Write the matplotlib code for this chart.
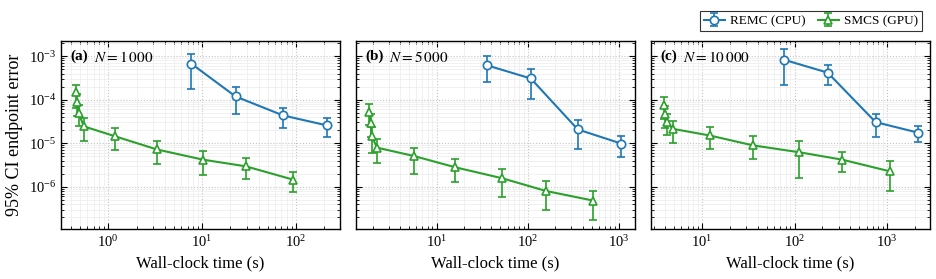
import numpy as np
import matplotlib
matplotlib.use("Agg")
import matplotlib.pyplot as plt
from matplotlib.ticker import LogLocator, NullFormatter

plt.rcParams['font.family'] = ['Liberation Serif', 'DejaVu Serif']
plt.rcParams['mathtext.fontset'] = 'stix'

panels = ["(a)", "(b)", "(c)"]
sizes = [r"$N = 1\,000$", r"$N = 5\,000$", r"$N = 10\,000$"]

# REMC (CPU): time, error, lower bar, upper bar
remc_t = [[7.7, 22.7, 72.8, 214], [35.6, 108, 353, 1062], [77, 228, 752, 2173]]
remc_y = [[6.7e-4, 1.19e-4, 4.36e-5, 2.57e-5],
          [6.2e-4, 3.08e-4, 2.08e-5, 9.8e-6],
          [8.3e-4, 4.2e-4, 3.06e-5, 1.75e-5]]
remc_lo = [[1.75e-4, 4.8e-5, 2.23e-5, 1.39e-5],
           [2.5e-4, 1.03e-4, 7.4e-6, 4.75e-6],
           [2.13e-4, 2.16e-4, 1.39e-5, 1.05e-5]]
remc_hi = [[1.13e-3, 1.95e-4, 6.4e-5, 3.8e-5],
           [1.0e-3, 5.1e-4, 3.5e-5, 1.44e-5],
           [1.45e-3, 6.35e-4, 4.8e-5, 2.48e-5]]

# SMCS (GPU)
smcs_t = [[0.457, 0.468, 0.484, 0.551, 1.19, 3.3, 10.2, 29.2, 93],
          [1.83, 1.91, 1.94, 2.24, 5.64, 16.1, 52.3, 158.6, 524],
          [3.89, 4.03, 4.17, 4.8, 12.1, 35.5, 113, 327, 1067]]
smcs_y = [[1.49e-4, 8.8e-5, 4.9e-5, 2.44e-5, 1.44e-5, 7.2e-6, 4.2e-6, 2.95e-6, 1.46e-6],
          [5.2e-5, 2.9e-5, 1.44e-5, 7.9e-6, 5.1e-6, 2.8e-6, 1.57e-6, 8.0e-7, 4.8e-7],
          [7.7e-5, 4.8e-5, 3.06e-5, 2.15e-5, 1.51e-5, 8.95e-6, 6.2e-6, 4.2e-6, 2.27e-6]]
smcs_lo = [[6.5e-5, 4.2e-5, 2.44e-5, 1.1e-5, 7.1e-6, 3.3e-6, 1.9e-6, 1.5e-6, 7.5e-7],
           [2.6e-5, 1.4e-5, 5.95e-6, 3.5e-6, 1.97e-6, 1.27e-6, 5.8e-7, 2.9e-7, 1.73e-7],
           [3.7e-5, 2.3e-5, 1.51e-5, 1.01e-5, 7.2e-6, 4.35e-6, 1.6e-6, 2.15e-6, 7.9e-7]]
smcs_hi = [[2.24e-4, 1.35e-4, 7.5e-5, 3.8e-5, 2.28e-5, 1.15e-5, 6.6e-6, 4.5e-6, 2.15e-6],
           [7.8e-5, 4.6e-5, 2.4e-5, 1.28e-5, 7.9e-6, 4.4e-6, 2.56e-6, 1.34e-6, 7.9e-7],
           [1.15e-4, 7.2e-5, 4.6e-5, 3.2e-5, 2.35e-5, 1.44e-5, 1.12e-5, 6.3e-6, 3.85e-6]]

xlims = [(0.314, 294), (1.30, 1486), (2.81, 2911)]
ylim = (1.07e-7, 2.3e-3)

blue = "#1f77b4"
green = "#2ca02c"

fig = plt.figure(figsize=(9.36, 2.79), dpi=100)
lefts = [61 / 936, 355.7 / 936, 651 / 936]
w = 279 / 936
b = 1 - 229 / 279
h = (229 - 40.5) / 279

axes = []
for k in range(3):
    ax = fig.add_axes([lefts[k], b, w, h])
    axes.append(ax)
    ax.set_xscale('log')
    ax.set_yscale('log')

    y = np.array(remc_y[k])
    err = [y - np.array(remc_lo[k]), np.array(remc_hi[k]) - y]
    ax.errorbar(remc_t[k], y, yerr=err, color=blue, marker='o', ms=6,
                mfc='white', mec=blue, mew=1.2, lw=1.5, capsize=3,
                elinewidth=1.2, capthick=1.2, label="REMC (CPU)", zorder=3)

    y = np.array(smcs_y[k])
    err = [y - np.array(smcs_lo[k]), np.array(smcs_hi[k]) - y]
    ax.errorbar(smcs_t[k], y, yerr=err, color=green, marker='^', ms=6,
                mfc='white', mec=green, mew=1.2, lw=1.5, capsize=3,
                elinewidth=1.2, capthick=1.2, label="SMCS (GPU)", zorder=3)

    ax.set_xlim(xlims[k])
    ax.set_ylim(ylim)
    ax.yaxis.set_major_locator(LogLocator(base=10, numticks=15))
    ax.yaxis.set_minor_locator(LogLocator(base=10, subs=np.arange(2, 10), numticks=15))
    ax.yaxis.set_minor_formatter(NullFormatter())
    ax.xaxis.set_minor_formatter(NullFormatter())
    ax.grid(which='major', color='#c4c4c4', ls=':', lw=0.8)
    ax.grid(which='minor', color='#ececec', ls='-', lw=0.5)
    ax.set_axisbelow(True)
    ax.tick_params(which='both', direction='in', top=True, right=True, labelsize=10.5)
    ax.tick_params(which='major', length=4)
    ax.tick_params(which='minor', length=2)
    for sp in ax.spines.values():
        sp.set_linewidth(1.0)
    ax.set_xlabel("Wall-clock time (s)", fontsize=12)
    if k > 0:
        ax.tick_params(labelleft=False)
    ax.text(0.035, 0.95, panels[k], transform=ax.transAxes, fontsize=11,
            fontweight='bold', va='top', ha='left')
    ax.text(0.035 + (0.085 if k < 2 else 0.08), 0.95, sizes[k], transform=ax.transAxes,
            fontsize=11, va='top', ha='left')

axes[0].set_ylabel("95% CI endpoint error", fontsize=13)

handles, labels = axes[2].get_legend_handles_labels()
leg = fig.legend(handles, labels, loc='upper right', bbox_to_anchor=(922 / 936, 1 - 11 / 279),
                 ncol=2, fontsize=9.5, frameon=True, fancybox=False, edgecolor='black',
                 borderpad=0.3, handlelength=1.6, columnspacing=0.9, handletextpad=0.4,
                 borderaxespad=0)
leg.get_frame().set_linewidth(0.8)

fig.savefig("out.png", dpi=100)
